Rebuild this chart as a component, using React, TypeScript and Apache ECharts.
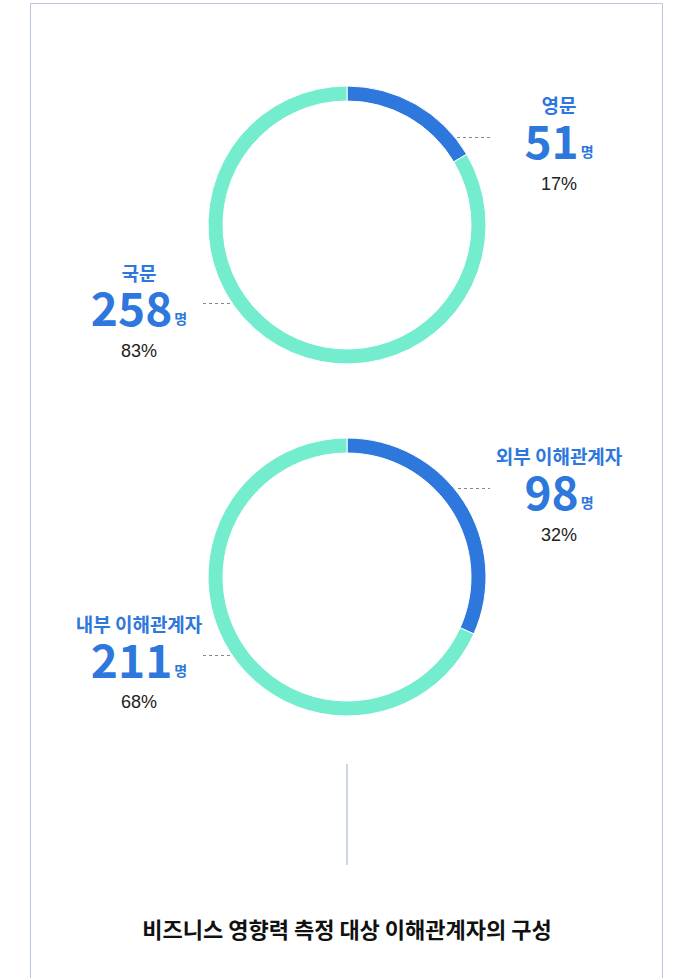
import React, { useEffect, useRef } from 'react';
import * as echarts from 'echarts';

// ---- data ----
const chart1Names = ['영문', '국문'];
const chart1Values = [51, 258];
const chart1Percents = [17, 83];
const chart2Names = ['외부 이해관계자', '내부 이해관계자'];
const chart2Values = [98, 211];
const chart2Percents = [32, 68];
const unitLabel = '명';
const chartTitle = '비즈니스 영향력 측정 대상 이해관계자의 구성';

const BLUE = '#2e77dc';
const TEAL = '#74ecce';
const FONT = '"Noto Sans CJK KR", "Noto Sans", sans-serif';

type LabelPos = { x: number; yName: number; yNum: number; yPct: number; line: [number, number, number] };

function labelBlock(name: string, value: number, pct: number, p: LabelPos) {
  return [
    {
      type: 'text',
      x: p.x,
      y: p.yName,
      style: {
        text: name,
        fill: BLUE,
        fontSize: 19,
        fontWeight: 'bold',
        fontFamily: FONT,
        align: 'center',
        verticalAlign: 'middle',
      },
    },
    {
      type: 'text',
      x: p.x,
      y: p.yNum,
      style: {
        text: `{n|${value}}{u|${unitLabel}}`,
        align: 'center',
        verticalAlign: 'middle',
        rich: {
          n: { fontSize: 46, fontWeight: 'bold', fontFamily: FONT, fill: BLUE, lineHeight: 38, verticalAlign: 'bottom' },
          u: { fontSize: 14, fontWeight: 'bold', fontFamily: FONT, fill: BLUE, lineHeight: 14, verticalAlign: 'bottom', padding: [0, 0, 4, 2] },
        },
      },
    },
    {
      type: 'text',
      x: p.x,
      y: p.yPct,
      style: {
        text: `${pct}%`,
        fill: '#222',
        fontSize: 18,
        fontFamily: '"Liberation Sans", sans-serif',
        align: 'center',
        verticalAlign: 'middle',
      },
    },
    {
      type: 'line',
      shape: { x1: p.line[0], y1: p.line[2], x2: p.line[1], y2: p.line[2] },
      style: { stroke: '#888', lineWidth: 1, lineDash: [3, 3] },
    },
  ];
}

export default function App() {
  const ref = useRef<HTMLDivElement>(null);
  useEffect(() => {
    if (!ref.current) return;
    const chart = echarts.init(ref.current, undefined, { renderer: 'svg' });

    const ring = (center: [number, number], names: string[], values: number[]) => ({
      type: 'pie',
      center,
      radius: [124, 139],
      startAngle: 90,
      clockwise: true,
      silent: true,
      label: { show: false },
      labelLine: { show: false },
      emphasis: { disabled: true },
      itemStyle: { borderColor: '#fff', borderWidth: 1 },
      data: names.map((n, i) => ({ name: n, value: values[i], itemStyle: { color: i === 0 ? BLUE : TEAL } })),
    });

    const pos1R: LabelPos = { x: 559, yName: 104, yNum: 143, yPct: 184, line: [457, 490, 137.5] };
    const pos1L: LabelPos = { x: 139, yName: 272, yNum: 310, yPct: 351, line: [203, 233, 303.5] };
    const pos2R: LabelPos = { x: 559, yName: 455, yNum: 494, yPct: 535, line: [458, 490, 488.5] };
    const pos2L: LabelPos = { x: 139, yName: 623, yNum: 662, yPct: 702, line: [203, 233, 655.5] };

    chart.setOption({
      animation: false,
      series: [ring([347, 225], chart1Names, chart1Values), ring([347, 577], chart2Names, chart2Values)],
      graphic: [
        {
          type: 'rect',
          shape: { x: 30.5, y: 3.5, width: 632, height: 1000 },
          style: { fill: 'none', stroke: '#b9c7da', lineWidth: 1 },
          silent: true,
        },
        ...labelBlock(chart1Names[0], chart1Values[0], chart1Percents[0], pos1R),
        ...labelBlock(chart1Names[1], chart1Values[1], chart1Percents[1], pos1L),
        ...labelBlock(chart2Names[0], chart2Values[0], chart2Percents[0], pos2R),
        ...labelBlock(chart2Names[1], chart2Values[1], chart2Percents[1], pos2L),
        {
          type: 'line',
          shape: { x1: 347, y1: 764, x2: 347, y2: 865 },
          style: { stroke: '#bccadb', lineWidth: 1.5 },
        },
        {
          type: 'text',
          x: 347,
          y: 928,
          style: {
            text: chartTitle,
            fill: '#111',
            fontSize: 22,
            fontWeight: 'bold',
            fontFamily: FONT,
            align: 'center',
            verticalAlign: 'middle',
          },
        },
      ],
    });
    return () => chart.dispose();
  }, []);
  return <div ref={ref} style={{ position: 'absolute', left: 0, top: 0, width: 677, height: 978 }} />;
}
